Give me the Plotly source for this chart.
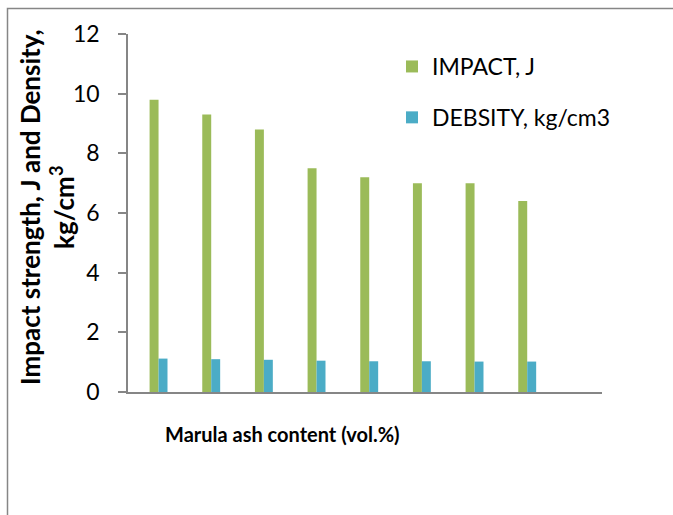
import plotly.graph_objects as go

# Data
groups = [0, 1, 2, 3, 4, 5, 6, 7]          # 8 sample groups (no tick labels shown)
impact = [9.8, 9.3, 8.8, 7.5, 7.2, 7.0, 7.0, 6.4]
density = [1.12, 1.10, 1.08, 1.05, 1.03, 1.03, 1.02, 1.02]
y_ticks = [0, 2, 4, 6, 8, 10, 12]

FONT = "Lato"
W, H = 673, 515
L, R, T, B = 128, 71, 34, 123
pw, ph = W - L - R, H - T - B

def px_x(x):
    return (x - L) / pw

def px_y(y):
    return (H - B - y) / ph

fig = go.Figure()
fig.add_trace(go.Bar(
    x=groups, y=impact, name="IMPACT, J",
    marker=dict(color="#9BBB59", line=dict(width=0)),
    width=0.17, offset=-0.09, legendgroup="a",
))
fig.add_trace(go.Bar(
    x=groups, y=density, name="DEBSITY, kg/cm3",
    marker=dict(color="#4BACC6", line=dict(width=0)),
    width=0.17, offset=0.08, legendgroup="b",
))

fig.update_layout(
    width=W, height=H,
    margin=dict(l=L, r=R, t=T, b=B, pad=0),
    paper_bgcolor="white", plot_bgcolor="white",
    barmode="overlay",
    font=dict(family=FONT, color="black", size=20),
    showlegend=True,
    legend=dict(
        x=px_x(392), y=px_y(45), xanchor="left", yanchor="top",
        font=dict(family=FONT, size=23, color="black"),
        tracegroupgap=18, traceorder="grouped",
        bgcolor="rgba(0,0,0,0)",
    ),
    xaxis=dict(
        range=[-0.5, 8.5], showticklabels=False, ticks="",
        showgrid=False, zeroline=False, showline=True,
        linecolor="#868686", linewidth=1.5,
    ),
    yaxis=dict(
        range=[0, 12], tickvals=y_ticks, ticks="outside", ticklen=8,
        tickcolor="#868686", tickwidth=1.5,
        showgrid=False, zeroline=False, showline=True,
        linecolor="#868686", linewidth=1.5,
        tickfont=dict(family=FONT, size=23, color="black"),
        ticklabelstandoff=14,
    ),
    annotations=[
        dict(
            text="<b>Impact strength, J and Density,</b><br><b>kg/cm<sup>3</sup></b>",
            xref="paper", yref="paper", x=px_x(47), y=px_y(207),
            xanchor="center", yanchor="middle", textangle=-90,
            showarrow=False, font=dict(family=FONT, size=26, color="black"),
        ),
        dict(
            text="<b>Marula ash content (vol.%)</b>",
            xref="paper", yref="paper", x=px_x(282.5), y=px_y(434),
            xanchor="center", yanchor="middle",
            showarrow=False, font=dict(family=FONT, size=20, color="black"),
        ),
    ],
    shapes=[
        dict(
            type="rect", xref="paper", yref="paper",
            x0=px_x(7.5), x1=px_x(690), y0=px_y(8.5), y1=px_y(530),
            line=dict(color="#868686", width=1.5), fillcolor="rgba(0,0,0,0)",
            layer="above",
        )
    ],
)

fig.write_html(
    "out.html",
    config={"displayModeBar": False},
    post_script="document.body.style.margin='0';document.body.style.overflow='hidden';",
)
